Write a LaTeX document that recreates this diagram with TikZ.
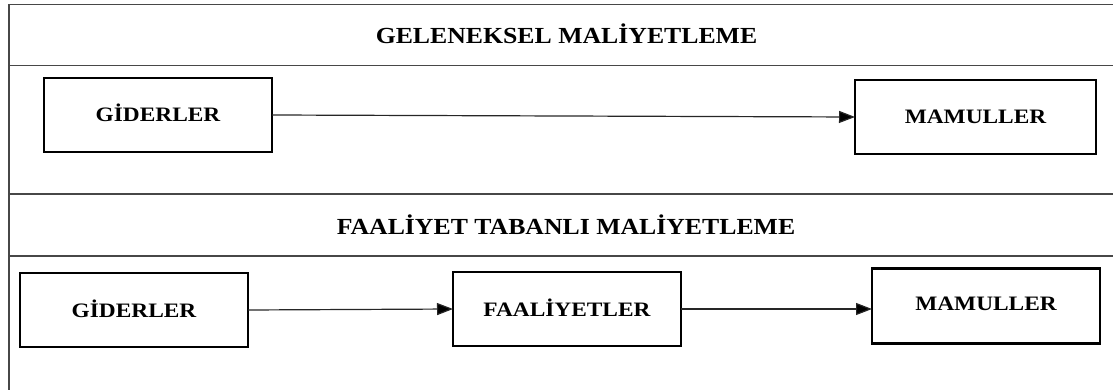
\documentclass[tikz,border=0pt]{standalone}
\usepackage{fontspec}
\setmainfont{Liberation Serif}
\usetikzlibrary{arrows.meta}
\newcommand{\boxtxt}[1]{\fontsize{20.5}{24}\selectfont\bfseries\scalebox{1.14}[1]{#1}}
\newcommand{\titletxt}[1]{\fontsize{23}{27}\selectfont\bfseries\scalebox{1.12}[1]{#1}}
\tikzset{
  frameline/.style={draw=black!72, line width=1.4pt},
  stepbox/.style={draw=black, line width=2.3pt, rectangle, inner sep=0pt, outer sep=0pt,
    minimum width=228pt, minimum height=74pt, text height=14pt, text depth=0pt, align=center},
  flow/.style={draw=black!85, line width=1.2pt, -{Triangle[length=16pt,width=12pt,fill=black]}},
  ttl/.style={inner sep=0pt, anchor=base}
}
\begin{document}
\begin{tikzpicture}[x=1pt,y=-1pt]
\useasboundingbox (0,0) rectangle (1113,390);
% frame
\draw[frameline] (1113,4.3) -- (9,4.3) -- (9,390);
\draw[frameline] (9,65.7) -- (1113,65.7);
\draw[frameline] (9,194) -- (1113,194);
\draw[frameline] (9,256) -- (1113,256);
% titles
\node[ttl] (t1) at (566.5,44) {\titletxt{GELENEKSEL MALİYETLEME}};
\node[ttl] (t2) at (566,234) {\titletxt{FAALİYET TABANLI MALİYETLEME}};
% top row
\node[stepbox] (g1) at (158,115) {\boxtxt{GİDERLER}};
\node[stepbox, minimum width=241pt] (m1) at (975.5,117) {\boxtxt{MAMULLER}};
\draw[flow] (g1.east) -- (m1.west);
% bottom row
\node[stepbox] (g2) at (134,310) {\boxtxt{GİDERLER}};
\node[stepbox] (f) at (567,309) {\boxtxt{FAALİYETLER}};
\node[stepbox, minimum height=75pt, text depth=6pt] (m2) at (986,306) {\boxtxt{MAMULLER}};
\draw[flow] (g2.east) -- (f.west);
\draw[flow] (f.east) -- (m2.west |- f.east);
\end{tikzpicture}
\end{document}
